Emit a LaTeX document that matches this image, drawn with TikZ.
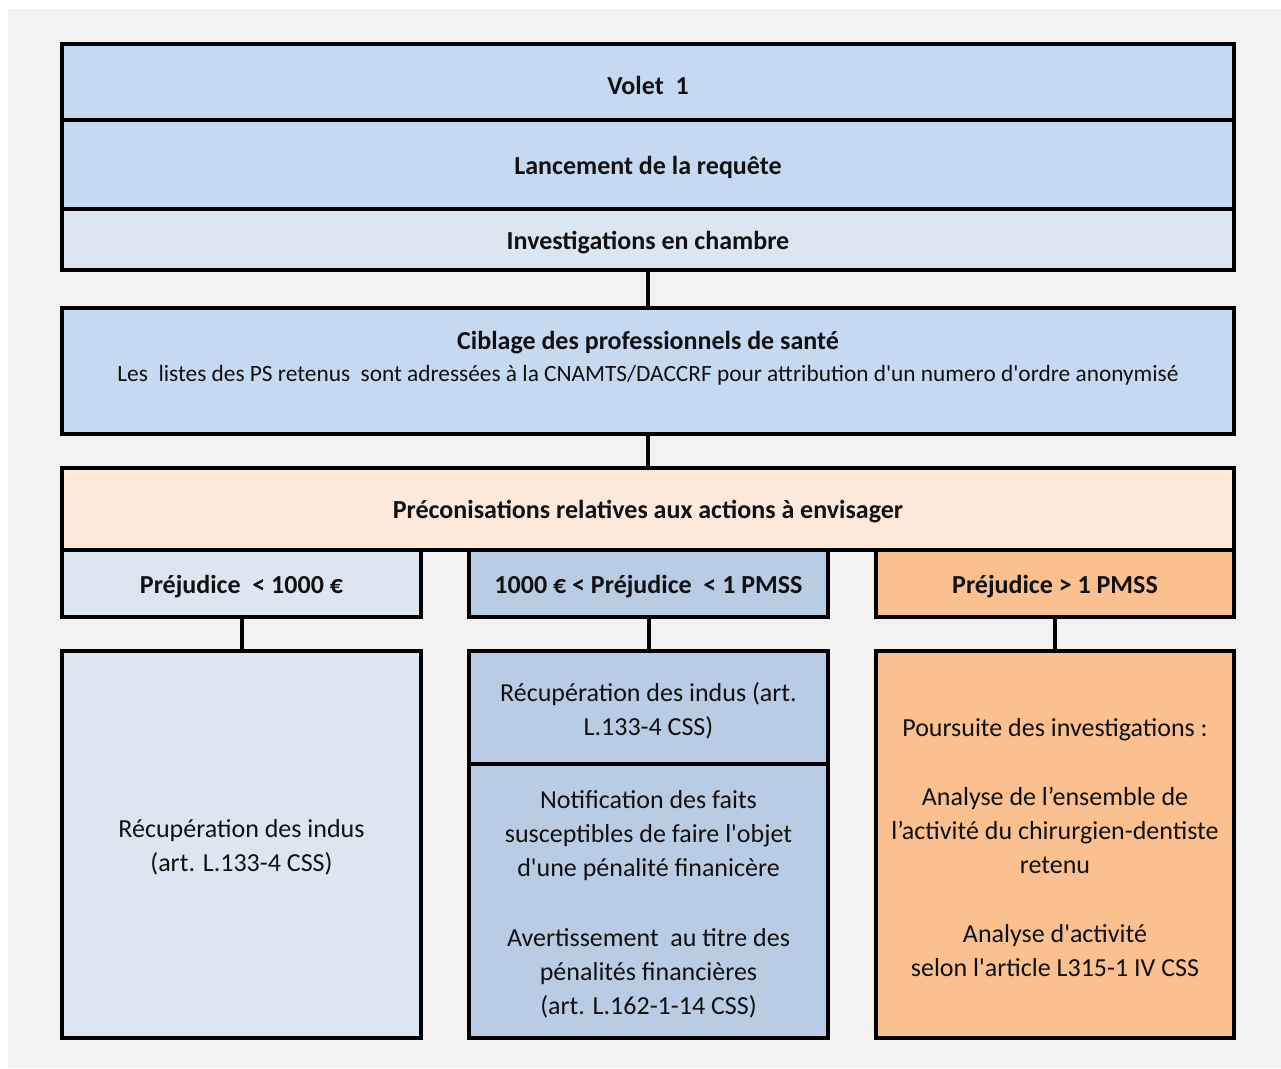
\documentclass[tikz,border=0pt]{standalone}
\usepackage{fontspec}
\setmainfont{Carlito}[Ligatures=TeXOff]
\definecolor{bgc}{HTML}{F2F2F2}
\definecolor{blueA}{HTML}{C5D9F1}
\definecolor{blueB}{HTML}{DCE6F1}
\definecolor{blueC}{HTML}{B8CCE4}
\definecolor{peachA}{HTML}{FDE9D9}
\definecolor{peachB}{HTML}{FAC090}
\definecolor{txt}{HTML}{111111}
% box helper: name, x1, y1, x2, y2, box style, text style, text
\newcommand\pbox[8]{%
  \node[#6, minimum width={(#4-#2)*0.75pt}, minimum height={(#5-#3)*0.75pt}]
    (#1) at ({(#2+#4)/2},{(#3+#5)/2}) {};
  \node[#7] (#1-t) at ([yshift=-3*0.75pt]#1.center) {#8};}
\begin{document}
\begin{tikzpicture}[x=0.75pt,y=-0.75pt,
  frame/.style={draw=black, line width=3pt, inner sep=0pt, outer sep=0pt},
  bodytext/.style={align=center, text=txt, inner sep=0pt,
    font=\fontsize{19.5pt}{25.5pt}\selectfont},
  boldtext/.style={bodytext, font=\fontsize{19.5pt}{25.5pt}\selectfont\bfseries},
  link/.style={draw=black, line width=3pt}]
\useasboundingbox (0,0) rectangle (1281,1068);
\fill[bgc] (8,9) rectangle (1281,1068);
% top stack
\pbox{volet}{62}{44}{1234}{120}{frame, fill=blueA}{boldtext}{Volet\ \ 1}
\pbox{lanc}{62}{120}{1234}{209}{frame, fill=blueA}{boldtext}{Lancement de la requête}
\pbox{invest}{62}{209}{1234}{270}{frame, fill=blueB}{boldtext}{Investigations en chambre}
\node[frame, fill=blueA, minimum width={1172*0.75pt}, minimum height={126*0.75pt}]
  (cibl) at (648,371) {};
\node[boldtext] (ciblt) at (648,343) {Ciblage des professionnels de santé};
\node[bodytext, font=\fontsize{17.5pt}{21pt}\selectfont]
  (ciblsub) at (648,375) {Les\ \ listes des PS retenus\ \ sont adressées à la CNAMTS/DACCRF pour attribution d'un numero d'ordre anonymisé};
\pbox{preco}{62}{468}{1234}{550}{frame, fill=peachA}{boldtext}{Préconisations relatives aux actions à envisager}
% thresholds
\pbox{p1}{62}{550}{421}{617}{frame, fill=blueB}{boldtext}{Préjudice\ \ < 1000 €}
\pbox{p2}{469}{550}{828}{617}{frame, fill=blueC}{boldtext}{1000 € < Préjudice\ \ < 1 PMSS}
\pbox{p3}{876}{550}{1234}{617}{frame, fill=peachB}{boldtext}{Préjudice > 1 PMSS}
% results
\pbox{r1}{62}{651}{421}{1038}{frame, fill=blueB}{bodytext}{Récupération des indus\\(art. L.133-4 CSS)}
\pbox{r2a}{469}{651}{828}{764}{frame, fill=blueC}{bodytext}{Récupération des indus (art.\\L.133-4 CSS)}
\pbox{r2b}{469}{764}{828}{1038}{frame, fill=blueC}{bodytext}{Notification des faits\\susceptibles de faire l'objet\\d'une pénalité finanicère\\[27pt]Avertissement\ \ au titre des\\pénalités financières\\(art. L.162-1-14 CSS)}
\pbox{r3}{876}{651}{1234}{1038}{frame, fill=peachB}{bodytext}{Poursuite des investigations :\\[26.5pt]Analyse de l’ensemble de\\l’activité du chirurgien-dentiste\\retenu\\[26.5pt]Analyse d'activité\\selon l'article L315-1 IV CSS}
% connectors
\draw[link] (invest) -- (cibl);
\draw[link] (cibl) -- (preco);
\draw[link] (p1) -- (r1);
\draw[link] (p2) -- (r2a);
\draw[link] (p3) -- (r3);
\end{tikzpicture}
\end{document}
